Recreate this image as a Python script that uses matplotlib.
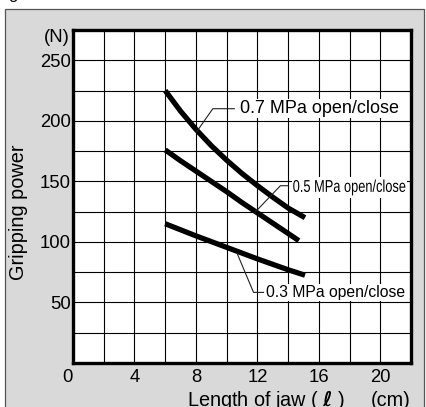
import numpy as np
import matplotlib
matplotlib.use("Agg")
import matplotlib.pyplot as plt
from matplotlib.patches import Rectangle, PathPatch
from matplotlib.transforms import ScaledTranslation, Affine2D
from matplotlib.textpath import TextPath
from matplotlib.font_manager import FontProperties

plt.rcParams['font.family'] = ['Liberation Sans', 'DejaVu Sans']

# jaw length (cm) and gripping power (N)
len_07 = [6, 7, 8, 9, 10, 11, 12, 13, 14, 15.1]
grip_07 = [225, 208, 193, 179.5, 167.5, 156.5, 146.5, 137, 128, 120]
len_05 = [6, 7, 8, 9, 10, 11, 12, 13, 14, 14.7]
grip_05 = [176, 167, 158.5, 150, 141.5, 132.5, 124, 115.5, 107, 101]
len_03 = [6, 8, 10, 12, 14, 15.1]
grip_03 = [115, 105, 95.5, 86, 77, 72.5]

labels = ["0.7 MPa open/close", "0.5 MPa open/close", "0.3 MPa open/close"]
xticks_lab = [0, 4, 8, 12, 16, 20]
yticks_lab = [50, 100, 150, 200, 250]

W, H = 427, 407
fig = plt.figure(figsize=(W / 100, H / 100), dpi=100)
fig.patch.set_facecolor("white")

# gray panel behind everything
panel = Rectangle((5 / W, -0.2), 419 / W, 1.2 - 9 / H, transform=fig.transFigure,
                  facecolor="#d9d9d9", edgecolor="#555555", lw=0.9, zorder=-10)
fig.patches.append(panel)
fig.text(8 / W, 1 + 1 / H, "g", fontsize=12, va="baseline", ha="left")

ax = fig.add_axes([73 / W, 1 - 363 / H, 338 / W, 333 / H])
ax.set_zorder(1)
ax.set_facecolor("white")
ax.set_xlim(0, 22)
ax.set_ylim(0, 275)

xt = np.arange(0, 23, 2)
yt = np.arange(0, 276, 25)
ax.set_xticks(xt)
ax.set_xticklabels([str(v) if v in xticks_lab else "" for v in xt], fontsize=13.3)
ax.set_yticks(yt)
ax.set_yticklabels([str(v) if v in yticks_lab else "" for v in yt], fontsize=13.3)
ax.tick_params(length=0)
ax.tick_params(axis="x", pad=4)
ax.tick_params(axis="y", pad=1.5)
ax.grid(True, color="black", lw=0.8)
for s in ax.spines.values():
    s.set_linewidth(2.4)
    s.set_zorder(5)
# the "0" sits a bit left of the corner
lab0 = ax.get_xticklabels()[0]
lab0.set_transform(lab0.get_transform() + ScaledTranslation(-6 / 100, 0, fig.dpi_scale_trans))

for xs, ys in [(len_07, grip_07), (len_05, grip_05), (len_03, grip_03)]:
    ax.plot(xs, ys, color="black", lw=3.8, solid_capstyle="butt",
            solid_joinstyle="round", zorder=3)

# leader lines
lc = "#222222"
ax.plot([8.05, 9.1, 10.5], [191, 210, 210], color=lc, lw=0.8, zorder=3)
ax.plot([11.85, 13.5, 14.0], [124.5, 146.4, 146.4], color=lc, lw=0.8, zorder=3)
ax.plot([10.7, 11.75, 12.4], [90, 58.3, 58.3], color=lc, lw=0.8, zorder=3)

box = dict(facecolor="white", edgecolor="none", pad=0.5)
ax.text(10.9, 210, labels[0], fontsize=13, va="center", ha="left", bbox=box, zorder=4)
ax.text(12.55, 58.3, labels[2], fontsize=11.3, va="center", ha="left", bbox=box, zorder=4)

# 0.5 MPa label is set in a condensed face: squeeze the glyph outlines
fs = 12.3
tp = TextPath((0, 0), labels[1], size=fs, prop=FontProperties(family="Liberation Sans"))
k = 100 / 72
tr = (Affine2D().scale(0.75 * k, k).translate(0, -0.36 * fs * k)
      + ScaledTranslation(14.3, 146.4, ax.transData))
ext = tp.get_extents()
ax.add_patch(Rectangle((ext.x0 - 1.5, ext.y0 - 1.5), ext.width + 3, ext.height + 3,
                       transform=tr, facecolor="white", edgecolor="none", zorder=3.5))
ax.add_patch(PathPatch(tp, transform=tr, facecolor="black", edgecolor="none", zorder=4))

fig.text(70 / W, 1 - 38 / H, "(N)", fontsize=13.3, ha="right", va="center")
fig.text(19 / W, 1 - 212 / H, "Gripping power", fontsize=14.3, rotation=90,
         ha="center", va="center")
fig.text(266 / W, 1 - 400 / H, "Length of jaw ( $\\mathbf{\\ell}$ )", fontsize=14.3,
         ha="center", va="center")
fig.text(391 / W, 1 - 400 / H, "(cm)", fontsize=14.3, ha="center", va="center")

fig.savefig("out.png", dpi=100)
